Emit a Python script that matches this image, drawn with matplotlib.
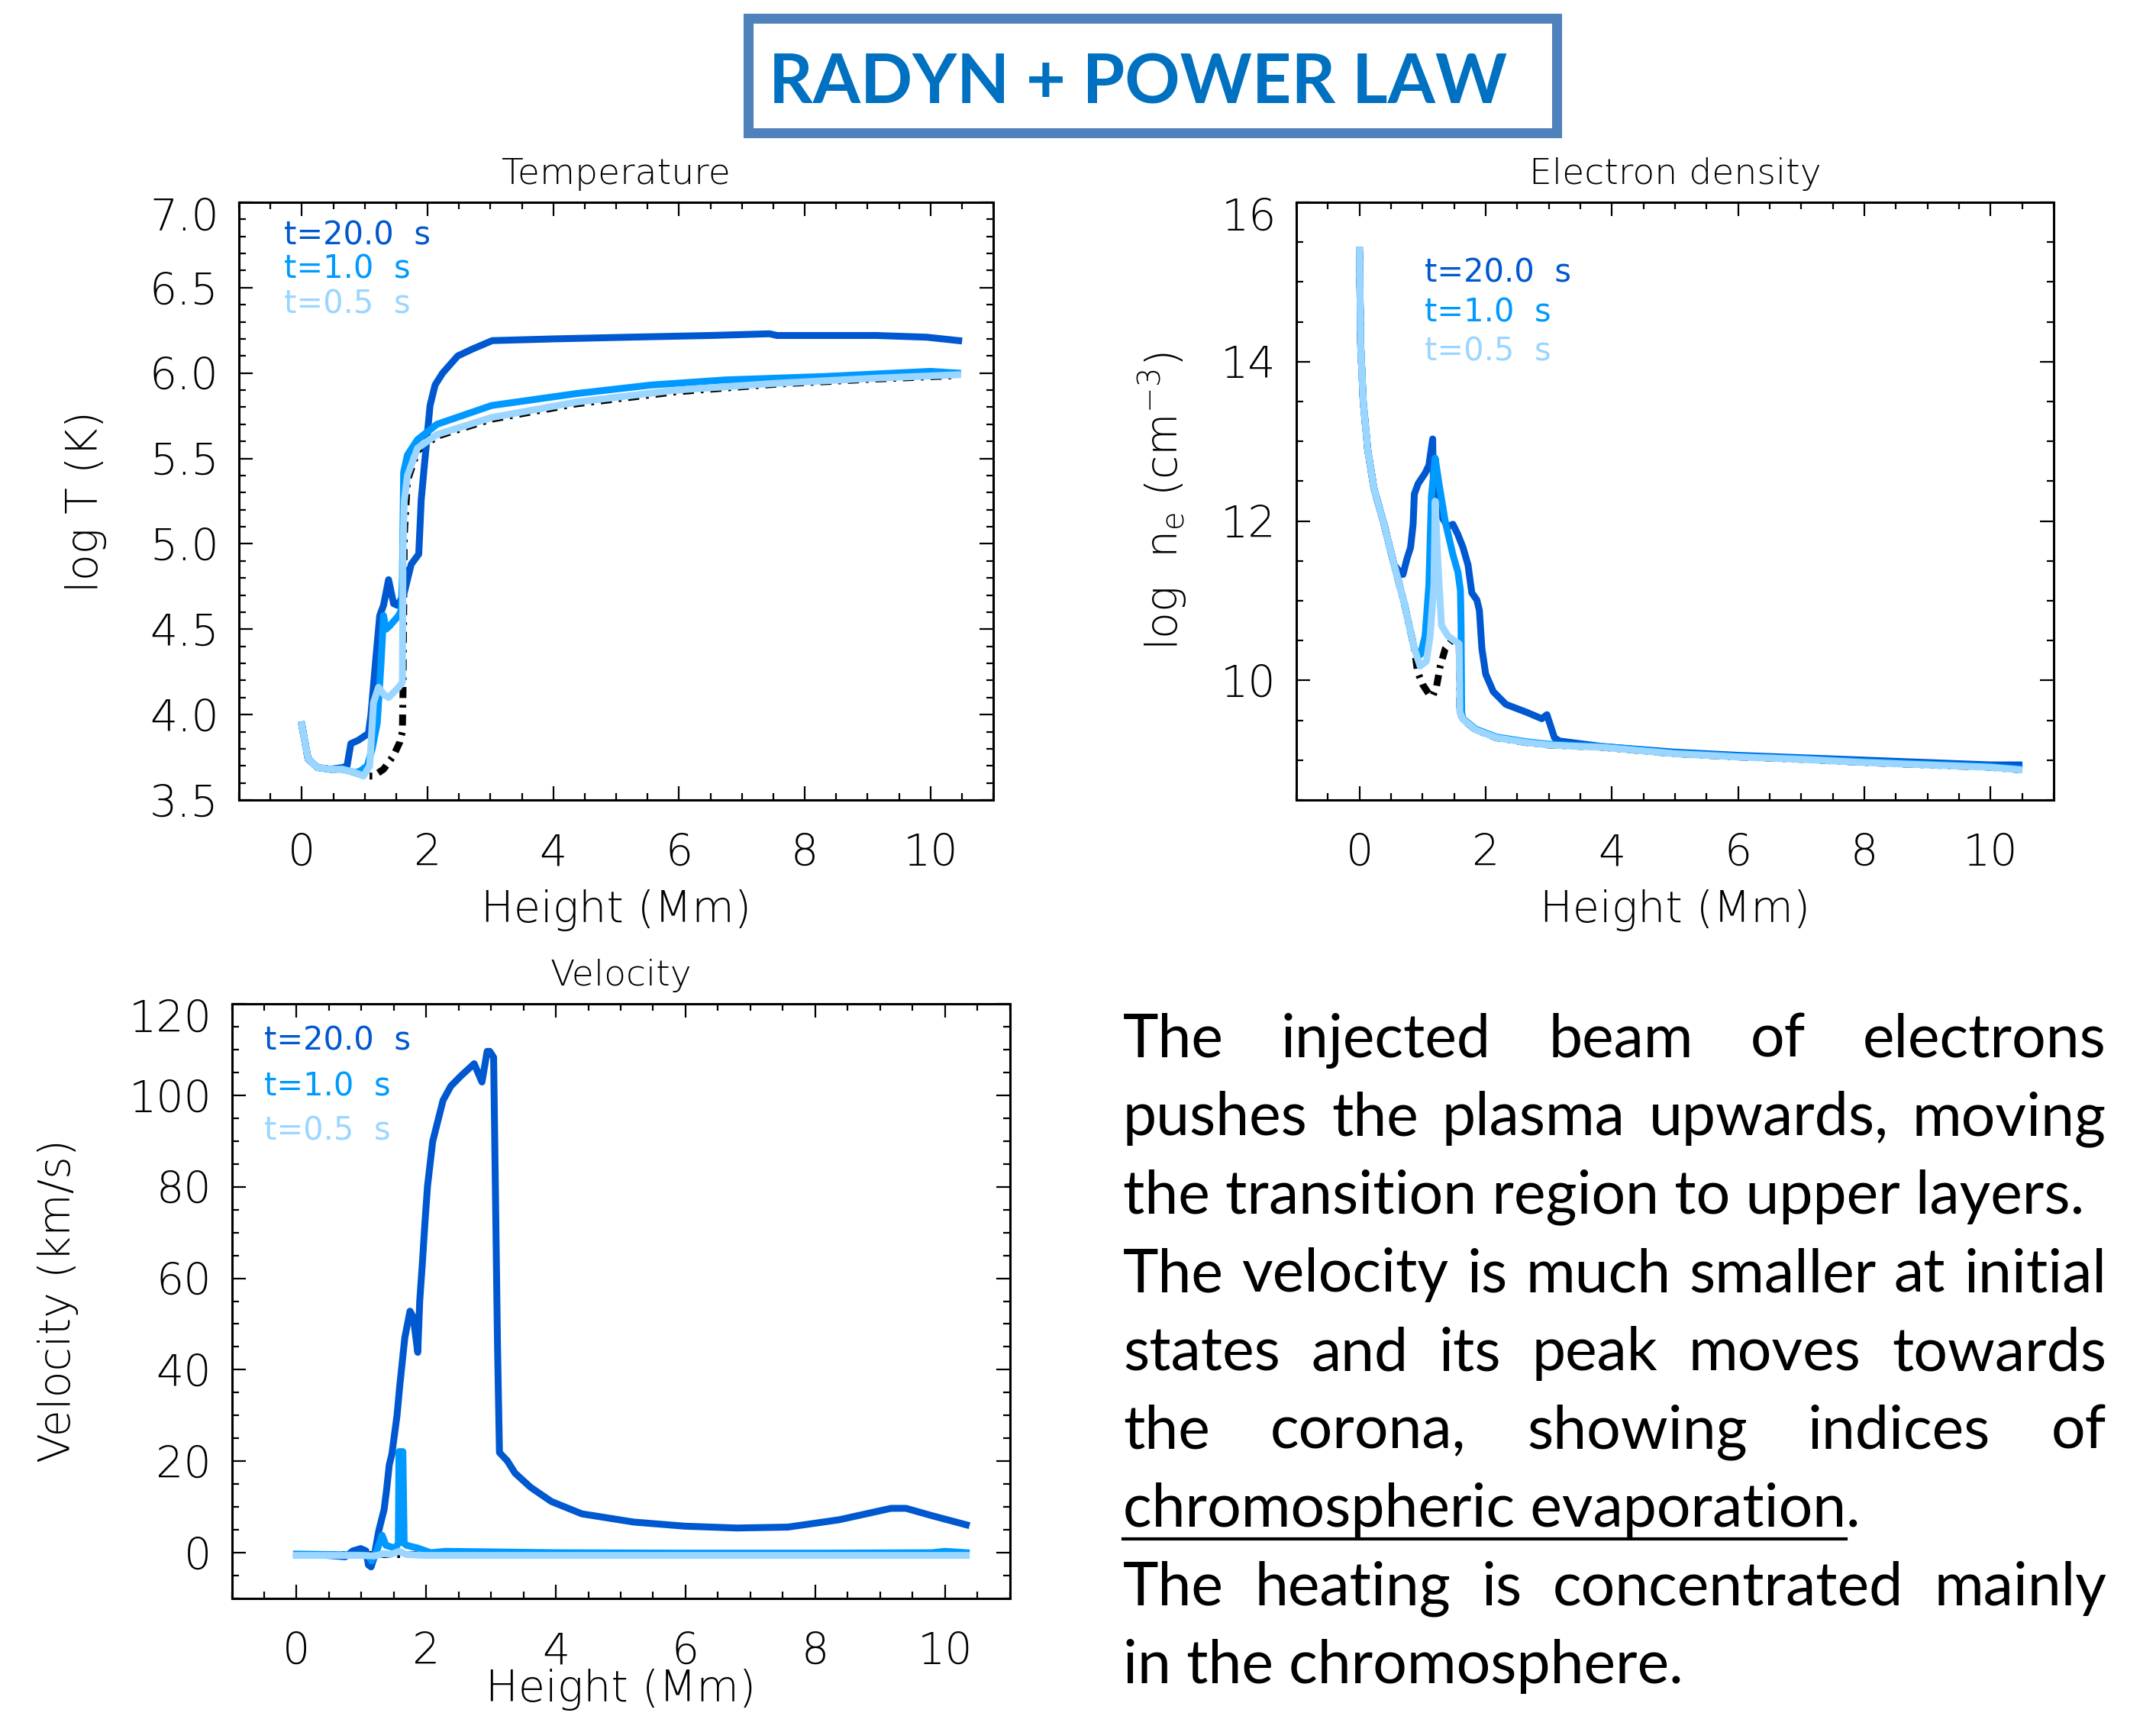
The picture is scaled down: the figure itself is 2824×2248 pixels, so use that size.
import matplotlib
matplotlib.use("Agg")
import matplotlib.pyplot as plt
from matplotlib.ticker import MultipleLocator, FuncFormatter
from matplotlib.font_manager import FontProperties
from matplotlib.patches import Rectangle
from matplotlib.lines import Line2D
from matplotlib import transforms

W, H, DPI = 2824, 2248, 100

C20 = '#0058d0'
C10 = '#0099ff'
C05 = '#9ad6ff'
C00 = 'black'

time_labels = ['t=20.0  s', 't=1.0  s', 't=0.5  s']

# ---- Temperature (log T) ----
tT00_x = [0, 0.1, 0.25, 0.45, 0.65, 0.85, 0.93, 1.0, 1.14, 1.30, 1.46, 1.56, 1.60, 1.61, 1.63, 1.68, 1.84, 2.15, 3.02, 4.37, 5.95, 7.54, 9.12, 10.43]
tT00_y = [3.94, 3.74, 3.69, 3.68, 3.68, 3.66, 3.65, 3.64, 3.64, 3.68, 3.76, 3.84, 3.90, 4.14, 5.05, 5.37, 5.545, 5.63, 5.73, 5.82, 5.89, 5.935, 5.965, 5.985]

tT05_x = [0, 0.1, 0.25, 0.45, 0.65, 0.85, 0.98, 1.08, 1.14, 1.22, 1.30, 1.38, 1.54, 1.60, 1.61, 1.63, 1.68, 1.84, 2.15, 3.02, 4.37, 5.95, 7.54, 9.12, 10.43]
tT05_y = [3.94, 3.74, 3.69, 3.68, 3.68, 3.66, 3.64, 3.70, 4.07, 4.16, 4.12, 4.10, 4.16, 4.19, 4.97, 5.25, 5.40, 5.56, 5.64, 5.74, 5.83, 5.90, 5.94, 5.97, 5.99]

tT10_x = [0, 0.1, 0.25, 0.45, 0.65, 0.85, 0.93, 1.04, 1.12, 1.20, 1.26, 1.30, 1.34, 1.40, 1.54, 1.58, 1.60, 1.62, 1.68, 1.84, 2.15, 3.02, 4.37, 5.56, 6.75, 8.33, 10.0, 10.43]
tT10_y = [3.94, 3.74, 3.69, 3.68, 3.68, 3.66, 3.67, 3.70, 3.80, 3.95, 4.30, 4.58, 4.50, 4.52, 4.58, 4.61, 4.80, 5.42, 5.52, 5.61, 5.70, 5.81, 5.88, 5.93, 5.96, 5.98, 6.01, 6.00]

tT20_x = [0, 0.1, 0.25, 0.45, 0.65, 0.72, 0.78, 0.9, 1.06, 1.10, 1.18, 1.24, 1.30, 1.38, 1.46, 1.52, 1.62, 1.74, 1.86, 1.90, 1.96, 2.04, 2.12, 2.24, 2.48, 2.71, 3.03, 4.0, 5.2, 6.5, 7.44, 7.56, 8.5, 9.14, 9.94, 10.45]
tT20_y = [3.94, 3.74, 3.69, 3.68, 3.69, 3.70, 3.83, 3.85, 3.89, 4.00, 4.34, 4.58, 4.64, 4.79, 4.65, 4.64, 4.70, 4.88, 4.94, 5.26, 5.50, 5.81, 5.93, 6.00, 6.10, 6.14, 6.19, 6.20, 6.21, 6.22, 6.23, 6.22, 6.22, 6.22, 6.21, 6.19]

# ---- Electron density (log ne) ----
ne05_x = [0, 0.02, 0.06, 0.13, 0.23, 0.39, 0.55, 0.71, 0.87, 0.96, 1.06, 1.12, 1.18, 1.20, 1.24, 1.30, 1.40, 1.50, 1.58, 1.59, 1.64, 1.84, 2.17, 2.65, 3.0, 3.86, 5.0, 6.0, 7.0, 8.0, 9.0, 10.0, 10.45]
ne05_y = [15.4, 14.2, 13.5, 12.9, 12.41, 11.96, 11.45, 10.97, 10.40, 10.18, 10.24, 10.56, 11.20, 12.25, 11.52, 10.69, 10.56, 10.50, 10.46, 9.60, 9.51, 9.38, 9.28, 9.22, 9.19, 9.16, 9.08, 9.04, 9.01, 8.97, 8.94, 8.91, 8.88]

ne00_x = [0, 0.02, 0.06, 0.13, 0.23, 0.39, 0.55, 0.71, 0.87, 0.92, 1.0, 1.10, 1.16, 1.22, 1.28, 1.36, 1.46, 1.58, 1.59, 1.64, 1.84, 2.17, 2.65, 3.0, 3.86, 5.0, 6.0, 7.0, 8.0, 9.0, 10.0, 10.45]
ne00_y = [15.4, 14.2, 13.5, 12.9, 12.41, 11.96, 11.45, 10.97, 10.40, 10.11, 9.95, 9.83, 9.80, 9.92, 10.18, 10.40, 10.50, 10.46, 9.60, 9.51, 9.38, 9.28, 9.22, 9.19, 9.16, 9.08, 9.04, 9.01, 8.97, 8.94, 8.91, 8.88]

ne10_x = [0, 0.02, 0.06, 0.13, 0.23, 0.39, 0.55, 0.71, 0.87, 0.93, 0.97, 1.04, 1.10, 1.14, 1.20, 1.26, 1.36, 1.48, 1.56, 1.60, 1.61, 1.62, 1.64, 1.84, 2.17, 2.65, 3.0, 3.86, 5.0, 6.0, 7.0, 8.0, 9.0, 10.0, 10.45]
ne10_y = [15.4, 14.2, 13.5, 12.9, 12.41, 11.96, 11.45, 10.97, 10.40, 10.30, 10.33, 10.56, 11.20, 12.31, 12.79, 12.47, 11.99, 11.58, 11.36, 11.13, 10.69, 9.60, 9.52, 9.39, 9.29, 9.23, 9.20, 9.17, 9.09, 9.05, 9.02, 8.98, 8.95, 8.92, 8.89]

ne20_x = [0, 0.02, 0.06, 0.13, 0.23, 0.39, 0.55, 0.62, 0.69, 0.75, 0.81, 0.85, 0.87, 0.93, 1.04, 1.10, 1.14, 1.16, 1.17, 1.20, 1.26, 1.32, 1.40, 1.48, 1.56, 1.64, 1.72, 1.78, 1.86, 1.90, 1.94, 2.00, 2.12, 2.32, 2.65, 2.89, 2.97, 3.09, 3.17, 3.86, 5.0, 6.0, 7.0, 8.0, 9.0, 10.0, 10.45]
ne20_y = [15.4, 14.2, 13.5, 12.9, 12.41, 11.96, 11.45, 11.38, 11.33, 11.52, 11.67, 11.96, 12.34, 12.47, 12.60, 12.70, 12.92, 13.03, 12.55, 12.47, 12.15, 12.03, 11.93, 11.96, 11.83, 11.67, 11.45, 11.10, 11.01, 10.88, 10.40, 10.08, 9.86, 9.70, 9.60, 9.52, 9.57, 9.28, 9.24, 9.17, 9.10, 9.06, 9.03, 9.00, 8.97, 8.94, 8.94]

# ---- Velocity (km/s) ----
v00_x = [0, 10.33]
v00_y = [-0.4, -0.4]

v05_x = [0, 1.0, 1.2, 1.35, 1.45, 1.58, 1.70, 2.0, 5.0, 10.33]
v05_y = [-0.6, -0.6, -0.7, -0.2, -0.4, 0.3, -0.4, -0.6, -0.6, -0.6]

v10_x = [0, 0.5, 1.0, 1.10, 1.16, 1.24, 1.32, 1.38, 1.52, 1.57, 1.58, 1.64, 1.66, 1.70, 1.87, 2.07, 2.3, 4.0, 6.0, 8.0, 9.8, 10.0, 10.33]
v10_y = [-0.3, -0.4, -0.5, -0.6, -1.8, 0.5, 3.8, 1.6, 1.0, 2.0, 22.1, 22.1, 2.0, 1.6, 1.0, 0.0, 0.3, 0.0, -0.1, -0.1, 0.0, 0.3, 0.0]

v20_x = [0, 0.4, 0.75, 0.87, 0.99, 1.07, 1.11, 1.15, 1.19, 1.27, 1.35, 1.39, 1.43, 1.47, 1.55, 1.59, 1.63, 1.67, 1.75, 1.80, 1.87, 1.90, 1.94, 1.98, 2.02, 2.10, 2.18, 2.26, 2.38, 2.54, 2.74, 2.86, 2.94, 2.98, 3.04, 3.10, 3.13, 3.25, 3.37, 3.61, 3.93, 4.40, 5.20, 5.99, 6.79, 7.58, 8.37, 9.17, 9.40, 9.80, 10.33]
v20_y = [-0.4, -0.5, -0.9, 0.4, 0.9, 0.4, -2.7, -3.1, -1.3, 4.9, 9.4, 13.9, 19.2, 21.5, 30.0, 36.2, 41.6, 47.0, 52.8, 51.5, 43.8, 55.0, 63.1, 72.0, 80.1, 89.9, 94.4, 98.9, 102.0, 104.3, 106.9, 102.9, 109.6, 109.6, 108.3, 45.2, 21.9, 20.1, 17.4, 14.3, 11.2, 8.5, 6.7, 5.8, 5.4, 5.6, 7.2, 9.7, 9.7, 8.1, 6.1]

title_text = 'RADYN + POWER LAW'
para_lines = [
    ('The injected beam of electrons', True),
    ('pushes the plasma upwards, moving', True),
    ('the transition region to upper layers.', False),
    ('The velocity is much smaller at initial', True),
    ('states and its peak moves towards', True),
    ('the corona, showing indices of', True),
    ('chromospheric evaporation', False),
    ('The heating is concentrated mainly', True),
    ('in the chromosphere.', False),
]

plt.rcParams['font.family'] = ['DejaVu Sans']
plt.rcParams['mathtext.default'] = 'regular'

fig = plt.figure(figsize=(W / DPI, H / DPI), dpi=DPI)
fig.patch.set_facecolor('white')

THIN = 'light'


def fx(px):
    return px / W


def fy(py):
    return 1 - py / H


def make_axes(left, top, right, bottom):
    return fig.add_axes([fx(left), fy(bottom), fx(right) - fx(left), fy(top) - fy(bottom)])


def style(ax, ylo, yhi, ymaj, ymin, fmt, title, xlab, ylab, xlab_y, ylab_x):
    ax.set_xlim(-1, 11)
    ax.set_ylim(ylo, yhi)
    ax.xaxis.set_major_locator(MultipleLocator(2))
    ax.xaxis.set_minor_locator(MultipleLocator(0.5))
    ax.yaxis.set_major_locator(MultipleLocator(ymaj))
    ax.yaxis.set_minor_locator(MultipleLocator(ymin))
    ax.yaxis.set_major_formatter(FuncFormatter(lambda v, p: '' if abs(v - yhi) < 1e-6 else fmt % v))
    ax.tick_params(which='both', direction='in', top=True, right=True, width=1.6, labelsize=41)
    ax.tick_params(which='major', length=13)
    ax.tick_params(which='minor', length=6.5)
    ax.tick_params(axis='x', pad=31)
    ax.tick_params(axis='y', pad=19)
    for lab in ax.get_xticklabels() + ax.get_yticklabels():
        lab.set_fontweight(THIN)
    for s in ax.spines.values():
        s.set_linewidth(2.2)
    ax.set_title(title, fontsize=34, pad=17, fontweight=THIN)
    ax.set_xlabel(xlab, fontsize=41, va='center', fontweight=THIN)
    ax.set_ylabel(ylab, fontsize=41, va='center', fontweight=THIN)
    ax.xaxis.set_label_coords(0.5, xlab_y)
    ax.yaxis.set_label_coords(ylab_x, 0.5)
    # top y label sits a bit lower, as in the IDL plot
    off = transforms.ScaledTranslation(-0.26, -0.21, fig.dpi_scale_trans)
    ax.text(0, yhi, fmt % yhi, transform=ax.get_yaxis_transform() + off,
            ha='right', va='center', fontsize=41, fontweight=THIN)


def legend(ax, x, ys):
    for lab, col, y in zip(time_labels, [C20, C10, C05], ys):
        ax.text(x, y, lab, color=col, fontsize=30, transform=ax.transAxes, va='center', ha='left')


LW = 6.5
dashdot = (0, (1.6, 1.0, 0.4, 1.0))

# Temperature
axT = make_axes(313, 265, 1301, 1048)
axT.plot(tT00_x, tT00_y, color=C00, lw=LW, ls=dashdot)
axT.plot(tT20_x, tT20_y, color=C20, lw=LW)
axT.plot(tT10_x, tT10_y, color=C10, lw=LW)
axT.plot(tT05_x, tT05_y, color=C05, lw=LW)
style(axT, 3.5, 7.0, 0.5, 0.1, '%.1f', 'Temperature', 'Height (Mm)', 'log T (K)', -0.185, -0.203)
legend(axT, 0.060, [0.945, 0.888, 0.830])

# Electron density
axN = make_axes(1698, 265, 2690, 1048)
axN.plot(ne00_x, ne00_y, color=C00, lw=LW, ls=dashdot)
axN.plot(ne20_x, ne20_y, color=C20, lw=LW)
axN.plot(ne10_x, ne10_y, color=C10, lw=LW)
axN.plot(ne05_x, ne05_y, color=C05, lw=LW)
style(axN, 8.5, 16, 2, 0.5, '%d', 'Electron density', 'Height (Mm)',
      'log  n$_\\mathregular{e}$ (cm$^{\\mathregular{-3}}$)', -0.185, -0.177)
legend(axN, 0.169, [0.882, 0.816, 0.750])

# Velocity
axV = make_axes(303.5, 1315, 1322.5, 2094)
axV.plot(v00_x, v00_y, color=C00, lw=LW, ls=dashdot)
axV.plot(v20_x, v20_y, color=C20, lw=LW)
axV.plot(v10_x, v10_y, color=C10, lw=LW)
axV.plot(v05_x, v05_y, color=C05, lw=LW)
style(axV, -10, 120, 20, 5, '%d', 'Velocity', 'Height (Mm)', 'Velocity (km/s)', -0.154, -0.223)
legend(axV, 0.042, [0.938, 0.861, 0.786])

# ---- Title box ----
fig.add_artist(Rectangle((fx(980.5), fy(173.5)), fx(2038.5) - fx(980.5), fy(24.5) - fy(173.5),
                         transform=fig.transFigure, fill=False, ec='#4f81bd', lw=9.4))
r = fig.canvas.get_renderer()


def width_px(s, fp):
    t = fig.text(0, 0, s, fontproperties=fp)
    w = t.get_window_extent(r).width
    t.remove()
    return w


tfp = FontProperties(family='Lato', weight='bold', size=70)
tfp.set_size(70 * 968 / width_px(title_text, tfp))
fig.text(fx(1007), fy(135), title_text, fontproperties=tfp, color='#0070c0', ha='left', va='baseline')

# ---- Justified paragraph ----
left, right = 1471, 2759
pfp = FontProperties(family='Lato', weight='normal', size=60)
w3 = width_px(para_lines[2][0], pfp)
wmax = max(width_px(s, pfp) for s, j in para_lines if j)
size = min(66, 60 * 1262 / w3, 60 * 1280 / wmax)
pfp.set_size(size)

for i, (line, just) in enumerate(para_lines):
    yb = 1384.6 + i * 102.6
    if just:
        words = line.split()
        ws = [width_px(wd, pfp) for wd in words]
        gap = (right - left - sum(ws)) / (len(words) - 1)
        x = left
        for wd, w in zip(words, ws):
            fig.text(fx(x), fy(yb), wd, fontproperties=pfp, ha='left', va='baseline')
            x += w + gap
    else:
        fig.text(fx(left), fy(yb), line, fontproperties=pfp, ha='left', va='baseline')
        if line.startswith('chromospheric'):
            w = width_px(line, pfp)
            fig.add_artist(Line2D([fx(left), fx(left + w)], [fy(yb + 16)] * 2, lw=3, color='black',
                                  transform=fig.transFigure))
            fig.text(fx(left + w), fy(yb), '.', fontproperties=pfp, ha='left', va='baseline')

fig.savefig('out.png', dpi=DPI)
